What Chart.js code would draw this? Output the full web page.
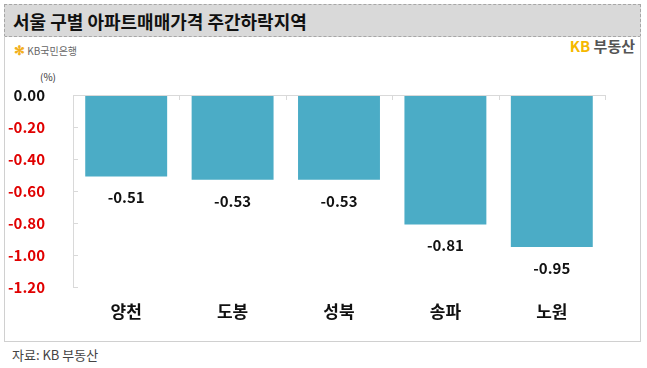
<!DOCTYPE html>
<html>
<head>
<meta charset="utf-8">
<script src="https://cdn.jsdelivr.net/npm/chart.js@4.4.1/dist/chart.umd.min.js"></script>
<style>
  html, body { margin: 0; padding: 0; background: #fff; }
  body { width: 647px; height: 368px; position: relative; overflow: hidden;
         font-family: "Noto Sans CJK KR", "Noto Sans", sans-serif; }
  #head { position: absolute; left: 4px; top: 4px; width: 635px; height: 31px;
          background: #d9d9d9; border: 1px dashed #a6a6a6; }
  #head span { position: absolute; left: 8px; top: 3px; font-size: 18px; font-weight: bold; color: #111; }
  #panel { position: absolute; left: 4px; top: 36px; width: 635px; height: 305px;
           border: 1px solid #d0d0d0; border-top: none; }
  #bank { position: absolute; left: 14px; top: 40px; font-size: 10px; color: #666; }
  #bank b { color: #f2b01e; font-size: 13px; }
  #kb { position: absolute; right: 12px; top: 35px; font-size: 15px; font-weight: bold; color: #555; }
  #kb em { font-style: normal; color: #f5b800; }
  #unit { position: absolute; left: 40px; top: 69px; font-size: 10px; color: #333; }
  #src { position: absolute; left: 12px; top: 345px; font-size: 13px; color: #444; }
  canvas { position: absolute; left: 0; top: 0; }
</style>
</head>
<body>
<div id="head"><span>서울 구별 아파트매매가격 주간하락지역</span></div>
<div id="panel"></div>
<div id="bank"><b>✻</b> KB국민은행</div>
<div id="kb"><em>KB</em> 부동산</div>
<div id="unit">(%)</div>
<div id="src">자료: KB 부동산</div>
<canvas id="chart" width="647" height="368"></canvas>
<script>
const districts = ['양천', '도봉', '성북', '송파', '노원'];
const changes = [-0.51, -0.53, -0.53, -0.81, -0.95];
const yTicks = [0, -0.2, -0.4, -0.6, -0.8, -1.0, -1.2];

// axis lines and the little inward ticks
const axisPlugin = {
    id: 'axisLines',
    afterDatasetsDraw(chart) {
        const ctx = chart.ctx;
        const x = chart.scales.x, y = chart.scales.y;
        const area = chart.chartArea;
        const y0 = y.getPixelForValue(0);
        const step = x.getPixelForValue(1) - x.getPixelForValue(0);
        ctx.save();
        ctx.strokeStyle = '#d9d9d9';
        ctx.lineWidth = 1;
        ctx.beginPath();
        ctx.moveTo(area.left + 0.5, area.top);
        ctx.lineTo(area.left + 0.5, area.bottom);
        ctx.moveTo(area.left, y0 + 0.5);
        ctx.lineTo(area.right, y0 + 0.5);
        yTicks.forEach(v => {
            const py = Math.round(y.getPixelForValue(v)) + 0.5;
            ctx.moveTo(area.left, py);
            ctx.lineTo(area.left + 5, py);
        });
        for (let i = 0; i < districts.length; i++) {
            const px = Math.round(x.getPixelForValue(i) + step / 2) + 0.5;
            ctx.moveTo(px, y0);
            ctx.lineTo(px, y0 + 5);
        }
        ctx.stroke();
        ctx.restore();
    }
};

const valueLabels = {
    id: 'valueLabels',
    afterDatasetsDraw(chart) {
        const ctx = chart.ctx;
        const meta = chart.getDatasetMeta(0);
        ctx.save();
        ctx.font = 'bold 15px "Noto Sans CJK KR", sans-serif';
        ctx.fillStyle = '#111';
        ctx.textAlign = 'center';
        ctx.textBaseline = 'middle';
        meta.data.forEach((bar, i) => {
            ctx.fillText(changes[i].toFixed(2), bar.x, bar.y + 21);
        });
        ctx.restore();
    }
};

new Chart(document.getElementById('chart'), {
    type: 'bar',
    data: {
        labels: districts,
        datasets: [{
            data: changes,
            backgroundColor: '#4bacc6',
            barPercentage: 0.77,
            categoryPercentage: 1.0,
            base: 0
        }]
    },
    options: {
        responsive: false,
        animation: false,
        events: [],
        layout: { padding: { top: 95, right: 42, bottom: 11, left: 0 } },
        plugins: { legend: { display: false }, tooltip: { enabled: false } },
        scales: {
            x: {
                position: 'bottom',
                grid: { display: false },
                border: { display: false },
                ticks: {
                    padding: 6,
                    color: '#111',
                    font: { size: 17, weight: 'bold', family: '"Noto Sans CJK KR", sans-serif' }
                },
                afterFit(scale) { scale.height = 70; }
            },
            y: {
                min: -1.2,
                max: 0,
                grid: { display: false },
                border: { display: false },
                afterFit(scale) { scale.width = 73; },
                afterBuildTicks(scale) { scale.ticks = yTicks.map(v => ({ value: v })); },
                ticks: {
                    padding: 20,
                    callback: v => v.toFixed(2),
                    color: ctx => ctx.tick.value === 0 ? '#111' : '#e00000',
                    font: { size: 15, weight: 'bold', family: '"Noto Sans CJK KR", sans-serif' }
                }
            }
        }
    },
    plugins: [axisPlugin, valueLabels]
});
</script>
</body>
</html>
